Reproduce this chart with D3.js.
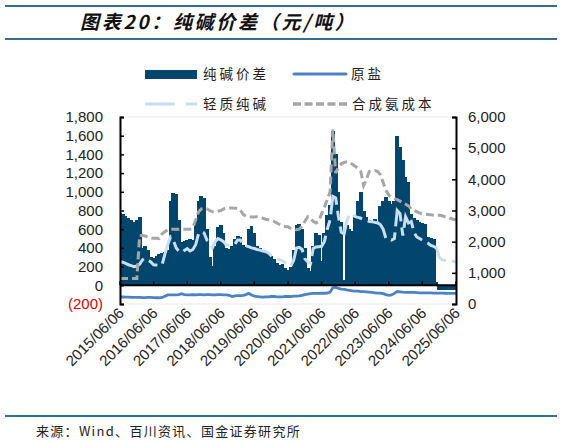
<!DOCTYPE html>
<html>
<head>
<meta charset="utf-8">
<script src="https://cdn.jsdelivr.net/npm/d3@7"></script>
<style>
  body { margin: 0; background: #fff; }
  svg { display: block; }
</style>
</head>
<body>
<div id="chart"></div>
<script>
// monthly samples, first point 2015/06/06
const startDate = new Date(2015, 5, 6);
const endDate = new Date(2025, 5, 6);

// 纯碱价差 (left axis)
const spread = [
  770, 760, 740, 720, 700, 680, 700, 730,
  400, 420, 380, 300, 290, 310, 330, 350, 360, 380,
  900, 990, 980, 700, 460, 470, 480, 490, 480,
  700, 900, 950, 930, 600, 300, 210,
  420, 620, 650, 560, 400, 390, 420, 500, 530, 520, 430, 410,
  600, 630, 560, 420, 400, 380, 360, 340, 310, 280, 240, 220, 230, 180, 160, 200,
  380, 640, 660, 600, 400, 180, 150, 420, 560, 540, 260,
  560, 750, 860, 1650, 1400, 1000, 680, 60, 640, 600, 580, 740, 900, 1000, 800,
  730, 700, 690, 710, 680, 850, 900, 940, 900, 870, 900,
  1600, 1480, 1340, 1160, 1100, 760, 720, 700, 680, 670, 660, 520, 510, 500, 40,
  -50, -50, -50, -50, -50, -50, -50
];

// 轻质纯碱 (right axis)
const lightAsh = [
  1360, 1340, 1300, 1260, 1230, 1200, 1220, 1280,
  1420, 1470, 1400, 1350, 1260, 1250, 1240, 1260, 1600, 1900,
  2150, 2050, 1800, 1700, 1650, 1720, 1780, 1700, 1750,
  1900, 2250, 2330, 2280, 2050, 1950, 1800,
  2000, 2100, 2060, 2000, 1880, 1900, 1950, 1920, 2050, 2050, 1900, 1860,
  1840, 1800, 1780, 1750, 1730, 1700, 1680, 1640, 1550, 1500, 1460, 1420, 1380, 1330, 1260, 1220,
  1400, 1800, 1820, 1750, 1450, 1350, 1300, 1780, 1830, 1840, 1850,
  2000, 2400, 2700, 3450, 3400, 2800, 2300, 2250, 2650, 2900, 2880, 2800, 2780, 2750, 2720,
  2680, 2650, 2640, 2620, 2600, 2550, 2400, 2100, 2100, 2050, 2100,
  3000, 2900, 2200, 2800, 2600, 2650, 2300, 2150, 2100, 2050, 2000, 1950, 1880, 1850, 1800,
  1500, 1420, 1400, 1400, 1380, 1370, 1350
];

// 合成氨成本 (right axis)
const ammoniaCost = [
  820, 820, 820, 820, 820, 820, 820, 2200,
  2200, 2180, 2150, 2120, 2110, 2110, 2100, 2250, 2320, 2380,
  2400, 2400, 2400, 2400, 2400, 2400, 2400, 2400, 2450,
  2700, 2950, 3050, 3070, 3050, 3000, 2960,
  2960, 2980, 3000, 3050, 3070, 3080, 3080, 3070, 3070, 3000, 2870, 2820,
  2800, 2790, 2790, 2800, 2770, 2750, 2720, 2700, 2680, 2650, 2600, 2550, 2500, 2480, 2480, 2430,
  2400, 2380, 2400, 2500, 2650, 2800, 2750, 2650, 2600, 2650, 2900,
  3100, 3350, 3600, 5600, 4200, 4400, 4500, 4540, 4560, 4550, 4480, 4420, 4350, 4250, 3800,
  4000, 4250, 4280, 4280, 4250, 4150, 3900, 3650, 3500, 3420, 3380,
  3350, 3300, 3250, 3200, 3150, 3050, 3000, 2960, 2920, 2900, 2880, 2870, 2860, 2850, 2850,
  2850, 2830, 2800, 2780, 2750, 2720, 2700
];

// 原盐 (right axis)
const salt = [
  230, 225, 220, 220, 215, 215, 210, 210,
  205, 205, 210, 210, 205, 200, 200, 210, 250, 290,
  290, 290, 290, 300, 330, 300, 290, 290, 300,
  290, 300, 300, 290, 300, 300, 290,
  290, 300, 300, 290, 290, 280, 240, 260, 270, 270, 280, 300,
  340, 290, 250, 240, 230, 220, 230, 230, 240, 240, 230, 230, 230, 240, 240, 240,
  250, 250, 260, 280, 300, 320, 330, 340, 340, 340, 345,
  345, 350, 380, 520, 540, 500, 480, 470, 450, 440, 420, 410, 410, 400, 400,
  390, 380, 370, 360, 350, 350, 330, 300, 280, 290, 340,
  400, 390, 380, 375, 370, 370, 370, 365, 360, 360, 360, 360, 355, 350, 350,
  350, 350, 345, 340, 340, 340, 340
];

const leftTicks = [-200, 0, 200, 400, 600, 800, 1000, 1200, 1400, 1600, 1800];
const rightTicks = [0, 1000, 2000, 3000, 4000, 5000, 6000];
const dateLabels = ["2015/06/06", "2016/06/06", "2017/06/06", "2018/06/06", "2019/06/06",
  "2020/06/06", "2021/06/06", "2022/06/06", "2023/06/06", "2024/06/06", "2025/06/06"];

const months = spread.map((d, i) => d3.timeMonth.offset(startDate, i));
const parseLabel = d3.timeParse("%Y/%m/%d");

const width = 563, height = 442;
const plot = { left: 120, right: 456, top: 117, bottom: 304 };
const navy = "#02466d";
const saltBlue = "#4a84c4";
const lightBlue = "#c9def0";
const gray = "#a6a6a6";
const ruleBlue = "#336f92";
const tickFont = "'Liberation Sans', Arial, sans-serif";
const cjkFont = "'Noto Sans CJK SC', sans-serif";

const svg = d3.select("#chart").append("svg")
  .attr("width", width)
  .attr("height", height);

// header and footer rules
[6, 39, 416].forEach(y => {
  svg.append("line")
    .attr("x1", 5).attr("x2", 557)
    .attr("y1", y).attr("y2", y)
    .attr("stroke", ruleBlue)
    .attr("stroke-width", 2);
});

svg.append("text")
  .attr("x", 80).attr("y", 29)
  .attr("font-family", cjkFont)
  .attr("font-size", 19)
  .attr("font-weight", "bold")
  .attr("font-style", "italic")
  .attr("letter-spacing", "2.7px")
  .attr("fill", "#111")
  .text("图表20：纯碱价差（元/吨）");

svg.append("text")
  .attr("x", 36).attr("y", 436)
  .attr("font-family", cjkFont)
  .attr("font-size", 13)
  .attr("letter-spacing", "1.3px")
  .attr("fill", "#222")
  .text("来源：Wind、百川资讯、国金证券研究所");

// scales
const x = d3.scaleTime().domain([startDate, endDate]).range([plot.left, plot.right]);
const yL = d3.scaleLinear().domain([-200, 1800]).range([plot.bottom, plot.top]);
const yR = d3.scaleLinear().domain([0, 6000]).range([plot.bottom, plot.top]);

svg.append("defs").append("clipPath").attr("id", "clip")
  .append("rect")
  .attr("x", plot.left).attr("y", plot.top - 10)
  .attr("width", plot.right - plot.left).attr("height", plot.bottom - plot.top + 10);

// faint plot frame
svg.append("rect")
  .attr("x", plot.left).attr("y", plot.top)
  .attr("width", plot.right - plot.left).attr("height", plot.bottom - plot.top)
  .attr("fill", "none")
  .attr("stroke", "#e8e8e8");

const g = svg.append("g").attr("clip-path", "url(#clip)");

// spread bars
const barW = x(months[1]) - x(months[0]) + 1;
g.selectAll("rect.bar")
  .data(spread)
  .enter()
  .append("rect")
  .attr("class", "bar")
  .attr("x", (d, i) => x(months[i]) - barW / 2)
  .attr("y", d => yL(Math.max(0, d)))
  .attr("width", barW)
  .attr("height", d => Math.abs(yL(d) - yL(0)))
  .attr("fill", navy)
  .attr("shape-rendering", "crispEdges");

const lineR = d3.line()
  .x((d, i) => x(months[i]))
  .y(d => yR(d));

g.append("path")
  .attr("d", lineR(lightAsh))
  .attr("fill", "none")
  .attr("stroke", lightBlue)
  .attr("stroke-width", 3)
  .attr("stroke-dasharray", "28,6,10,6");

g.append("path")
  .attr("d", lineR(ammoniaCost))
  .attr("fill", "none")
  .attr("stroke", gray)
  .attr("stroke-width", 3)
  .attr("stroke-dasharray", "8,4");

g.append("path")
  .attr("d", lineR(salt))
  .attr("fill", "none")
  .attr("stroke", saltBlue)
  .attr("stroke-width", 2.8);

// zero line with year ticks
svg.append("line")
  .attr("x1", plot.left).attr("x2", plot.right)
  .attr("y1", yL(0)).attr("y2", yL(0))
  .attr("stroke", "#000")
  .attr("stroke-width", 2);

svg.selectAll("line.xtick")
  .data(dateLabels)
  .enter()
  .append("line")
  .attr("class", "xtick")
  .attr("x1", d => x(parseLabel(d))).attr("x2", d => x(parseLabel(d)))
  .attr("y1", yL(0)).attr("y2", yL(0) - 4)
  .attr("stroke", "#000")
  .attr("stroke-width", 1.5);

svg.selectAll("text.xlabel")
  .data(dateLabels)
  .enter()
  .append("text")
  .attr("class", "xlabel")
  .attr("transform", d => `translate(${x(parseLabel(d)) + 5},${plot.bottom + 10}) rotate(-45)`)
  .attr("text-anchor", "end")
  .attr("font-family", tickFont)
  .attr("font-size", 15)
  .attr("fill", "#222")
  .text(d => d);

// left axis
const leftAxis = svg.append("g")
  .attr("transform", `translate(${plot.left},0)`)
  .call(d3.axisLeft(yL).tickValues(leftTicks).tickSize(-4).tickPadding(17)
    .tickFormat(d => d < 0 ? `(${d3.format(",")(-d)})` : d3.format(",")(d)));
leftAxis.select(".domain").attr("stroke", "#000").attr("stroke-width", 2);
leftAxis.selectAll(".tick line").attr("stroke", "#000").attr("stroke-width", 1.5);
leftAxis.selectAll(".tick text")
  .attr("font-family", tickFont)
  .attr("font-size", 15)
  .attr("fill", d => d < 0 ? "#e00000" : "#222");

// right axis
const rightAxis = svg.append("g")
  .attr("transform", `translate(${plot.right},0)`)
  .call(d3.axisRight(yR).tickValues(rightTicks).tickSize(-4).tickPadding(12)
    .tickFormat(d3.format(",")));
rightAxis.select(".domain").attr("stroke", "#000").attr("stroke-width", 2);
rightAxis.selectAll(".tick line").attr("stroke", "#000").attr("stroke-width", 1.5);
rightAxis.selectAll(".tick text")
  .attr("font-family", tickFont)
  .attr("font-size", 15)
  .attr("fill", "#222");

// legend
const legend = svg.append("g")
  .attr("font-family", cjkFont)
  .attr("font-size", 13.5)
  .attr("letter-spacing", "3px")
  .attr("fill", "#222");

legend.append("rect")
  .attr("x", 145).attr("y", 70).attr("width", 52).attr("height", 9)
  .attr("fill", navy);
legend.append("text").attr("x", 203).attr("y", 79).text("纯碱价差");

legend.append("line")
  .attr("x1", 294).attr("x2", 346).attr("y1", 74).attr("y2", 74)
  .attr("stroke", saltBlue).attr("stroke-width", 3).attr("stroke-linecap", "round");
legend.append("text").attr("x", 351).attr("y", 79).text("原盐");

legend.append("line")
  .attr("x1", 145).attr("x2", 197).attr("y1", 104).attr("y2", 104)
  .attr("stroke", lightBlue).attr("stroke-width", 3)
  .attr("stroke-dasharray", "30,11,11");
legend.append("text").attr("x", 203).attr("y", 109).text("轻质纯碱");

legend.append("line")
  .attr("x1", 293).attr("x2", 347).attr("y1", 104).attr("y2", 104)
  .attr("stroke", gray).attr("stroke-width", 3.5)
  .attr("stroke-dasharray", "8,3.5");
legend.append("text").attr("x", 352).attr("y", 109).text("合成氨成本");
</script>
</body>
</html>
